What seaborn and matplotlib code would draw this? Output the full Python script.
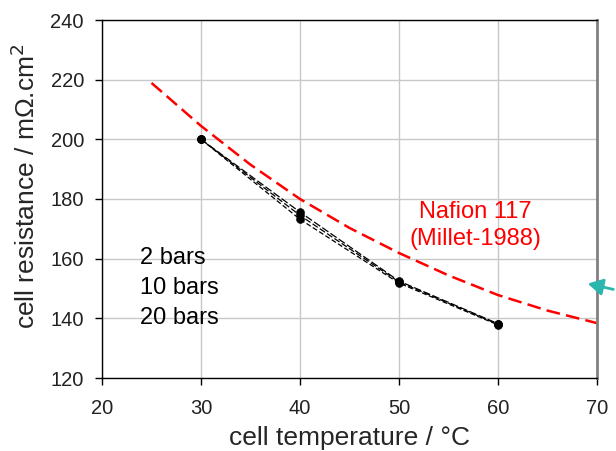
import matplotlib
matplotlib.use("Agg")
import matplotlib.pyplot as plt
import seaborn as sns
import pandas as pd

# Data
temps = [30, 40, 50, 60]
r_2bar = [200.0, 175.6, 152.5, 138.2]
r_10bar = [200.0, 174.5, 152.2, 138.0]
r_20bar = [200.0, 173.2, 151.8, 137.8]
series_names = ["2 bars", "10 bars", "20 bars"]

nafion_t = [25, 30, 35, 40, 45, 50, 55, 60, 65, 70]
nafion_r = [218.9, 204.5, 191.5, 180.0, 170.3, 161.9, 154.4, 147.8, 142.6, 138.4]

xticks = [20, 30, 40, 50, 60, 70]
yticks = [120, 140, 160, 180, 200, 220, 240]

sns.set_theme(style="white")
plt.rcParams["font.family"] = ["Liberation Sans", "DejaVu Sans"]

fig = plt.figure(figsize=(6.16, 4.51), dpi=100)
ax = fig.add_axes([102/616, 1-378/451, (597-102)/616, (378-20)/451])

df = pd.DataFrame({
    "t": temps * 3,
    "r": r_2bar + r_10bar + r_20bar,
    "s": [series_names[0]]*4 + [series_names[1]]*4 + [series_names[2]]*4,
})
for name, dash in zip(series_names, [(6, 2), (5, 2), (4, 2)]):
    sub = df[df["s"] == name]
    sns.lineplot(data=sub, x="t", y="r", ax=ax, color="black", lw=0.9,
                 dashes=False, legend=False)
    ax.lines[-1].set_dashes(dash)
for name in series_names:
    sub = df[df["s"] == name]
    sns.scatterplot(data=sub, x="t", y="r", ax=ax, color="black", s=32,
                    edgecolor="black", legend=False, zorder=5)

nf = pd.DataFrame({"t": nafion_t, "r": nafion_r})
sns.lineplot(data=nf, x="t", y="r", ax=ax, color="#ff0000", lw=1.8, legend=False)
ax.lines[-1].set_dashes((5.5, 2.5))

ax.set_xlim(20, 70)
ax.set_ylim(120, 240)
ax.set_xticks(xticks)
ax.set_yticks(yticks)
ax.grid(True, color="#c8c8c8", lw=1.0)
ax.set_axisbelow(True)
for sp in ["left", "bottom", "top"]:
    ax.spines[sp].set_color("black")
    ax.spines[sp].set_linewidth(1.0)
ax.spines["right"].set_color("#808080")
ax.spines["right"].set_linewidth(2.0)
ax.tick_params(axis="both", which="both", direction="out", length=5, width=1,
               color="black", labelsize=14.5, labelcolor="#222222", bottom=True, left=True)
ax.tick_params(axis="x", pad=10)
ax.tick_params(axis="y", pad=8)
ax.set_xlabel("cell temperature / \u00b0C", fontsize=19, labelpad=6)
ax.set_ylabel("cell resistance / m\u03a9.cm$^2$", fontsize=19)
ax.yaxis.set_label_coords(-0.125, 0.536)

ax.text(23.8, 150.2, "2 bars\n10 bars\n20 bars", fontsize=17, va="center", ha="left",
        linespacing=1.46, color="black")
ax.text(57.7, 171.0, "Nafion 117\n(Millet-1988)", fontsize=17, color="#ff0000",
        ha="center", va="center", linespacing=1.3)

fig.patches.append(matplotlib.patches.FancyArrowPatch(
    (616/616, 1-290/451), (585/616, 1-283/451), transform=fig.transFigure,
    arrowstyle="-|>,head_length=9,head_width=5", color="#2ab5ad", lw=2))

fig.savefig("out.png", dpi=100)
